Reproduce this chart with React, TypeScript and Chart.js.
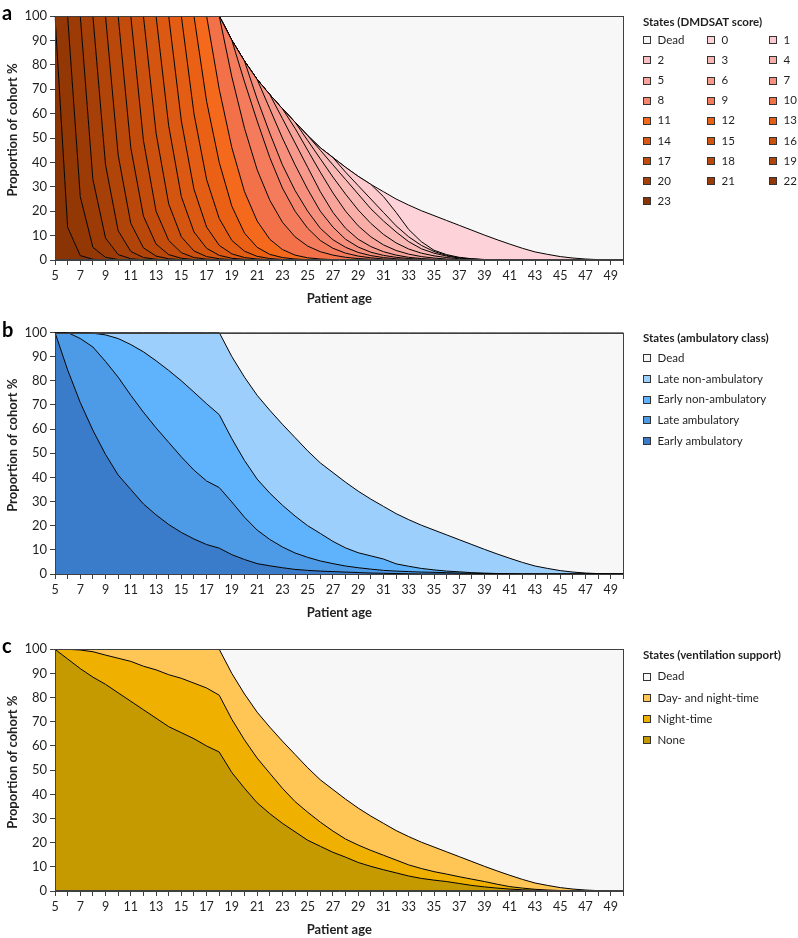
import React, { useEffect, useRef } from "react";
import { Chart, registerables } from "chart.js";

Chart.register(...registerables);

const FONT = 'Lato, "Open Sans", sans-serif';

// ---------- DATA (ages 5..50) ----------
const ages = [5, 6, 7, 8, 9, 10, 11, 12, 13, 14, 15, 16, 17, 18, 19, 20, 21, 22, 23, 24, 25, 26, 27, 28, 29, 30, 31, 32, 33, 34, 35, 36, 37, 38, 39, 40, 41, 42, 43, 44, 45, 46, 47, 48, 49, 50];

const cohortTotal = [
  100, 100, 100, 100, 100, 100, 100, 100, 100, 100,
  100, 100, 100, 100, 100, 100, 100, 100, 100, 100,
  100, 100, 100, 100, 100, 100, 100, 100, 100, 100,
  100, 100, 100, 100, 100, 100, 100, 100, 100, 100,
  100, 100, 100, 100, 100, 100,
];

// proportion alive (cumulative top of all living states)
const survival = [
  100, 100, 100, 100, 100, 100, 100, 100, 100, 100,
  100, 100, 100, 100, 90, 81.5, 74, 67.8, 62, 56.5,
  51, 46, 42, 38, 34.3, 31, 28, 25, 22.5, 20.2,
  18.2, 16.2, 14.2, 12.2, 10.2, 8.3, 6.5, 4.8, 3.3, 2.3,
  1.4, 0.8, 0.4, 0.15, 0.05, 0,
];

// Panel a: cumulative proportion with DMDSAT score >= s
const atLeast1 = [
  100, 100, 100, 100, 100, 100, 100, 100, 100, 100,
  100, 100, 100, 100, 90, 81.5, 74, 67.8, 62, 56.5,
  51, 46, 42, 38, 34.3, 31, 26, 19.5, 12.5, 7.5,
  4, 2.2, 1.1, 0.5, 0.2, 0.05, 0, 0, 0, 0,
  0, 0, 0, 0, 0, 0,
];
const atLeast2 = [
  100, 100, 100, 100, 100, 100, 100, 100, 100, 100,
  100, 100, 100, 100, 90, 81.5, 74, 67.8, 62, 56.5,
  51, 46, 42, 36, 30.5, 25, 19.5, 14, 9.5, 6,
  3.5, 1.9, 0.9, 0.4, 0.15, 0, 0, 0, 0, 0,
  0, 0, 0, 0, 0, 0,
];
const atLeast3 = [
  100, 100, 100, 100, 100, 100, 100, 100, 100, 100,
  100, 100, 100, 100, 90, 81.5, 74, 67.8, 62, 56.5,
  51, 45, 39, 33, 27, 21, 16, 11.5, 7.5, 4.6,
  2.8, 1.6, 0.8, 0.35, 0.12, 0, 0, 0, 0, 0,
  0, 0, 0, 0, 0, 0,
];
const atLeast4 = [
  100, 100, 100, 100, 100, 100, 100, 100, 100, 100,
  100, 100, 100, 100, 90, 81.5, 74, 67.8, 62, 56.5,
  49, 41.5, 34, 27, 20.5, 15, 10.5, 7, 4.5, 2.8,
  1.7, 1, 0.5, 0.25, 0.1, 0, 0, 0, 0, 0,
  0, 0, 0, 0, 0, 0,
];
const atLeast5 = [
  100, 100, 100, 100, 100, 100, 100, 100, 100, 100,
  100, 100, 100, 100, 90, 81.5, 74, 67.8, 62, 54,
  45, 36, 27.5, 20, 14, 9.5, 6.2, 3.9, 2.4, 1.4,
  0.8, 0.4, 0.2, 0.05, 0, 0, 0, 0, 0, 0,
  0, 0, 0, 0, 0, 0,
];
const atLeast6 = [
  100, 100, 100, 100, 100, 100, 100, 100, 100, 100,
  100, 100, 100, 100, 90, 81.5, 74, 67.8, 58, 48,
  38, 28, 19.5, 13, 8.5, 5.5, 3.4, 2, 1.1, 0.6,
  0.3, 0.1, 0, 0, 0, 0, 0, 0, 0, 0,
  0, 0, 0, 0, 0, 0,
];
const atLeast7 = [
  100, 100, 100, 100, 100, 100, 100, 100, 100, 100,
  100, 100, 100, 100, 90, 81.5, 74, 62, 50, 39,
  29, 20, 13.5, 8.5, 5.3, 3.2, 1.9, 1.1, 0.6, 0.3,
  0.1, 0, 0, 0, 0, 0, 0, 0, 0, 0,
  0, 0, 0, 0, 0, 0,
];
const atLeast8 = [
  100, 100, 100, 100, 100, 100, 100, 100, 100, 100,
  100, 100, 100, 100, 90, 81.5, 66, 52, 39, 28.5,
  20, 13, 8.3, 5.2, 3.1, 1.8, 1, 0.5, 0.2, 0.05,
  0, 0, 0, 0, 0, 0, 0, 0, 0, 0,
  0, 0, 0, 0, 0, 0,
];
const atLeast9 = [
  100, 100, 100, 100, 100, 100, 100, 100, 100, 100,
  100, 100, 100, 100, 90, 73, 57, 42, 29.5, 20,
  13, 8, 4.8, 2.8, 1.6, 0.9, 0.4, 0.15, 0, 0,
  0, 0, 0, 0, 0, 0, 0, 0, 0, 0,
  0, 0, 0, 0, 0, 0,
];
const atLeast10 = [
  100, 100, 100, 100, 100, 100, 100, 100, 100, 100,
  100, 100, 100, 100, 75, 54, 37, 24.5, 15.5, 9.5,
  5.7, 3.4, 2, 1.1, 0.6, 0.3, 0.1, 0, 0, 0,
  0, 0, 0, 0, 0, 0, 0, 0, 0, 0,
  0, 0, 0, 0, 0, 0,
];
const atLeast11 = [
  100, 100, 100, 100, 100, 100, 100, 100, 100, 100,
  100, 100, 100, 70, 46, 28, 16, 8.5, 4.3, 2,
  0.9, 0.4, 0.15, 0, 0, 0, 0, 0, 0, 0,
  0, 0, 0, 0, 0, 0, 0, 0, 0, 0,
  0, 0, 0, 0, 0, 0,
];
const atLeast12 = [
  100, 100, 100, 100, 100, 100, 100, 100, 100, 100,
  100, 100, 65, 40, 22, 11, 5.2, 2.3, 1, 0.4,
  0.15, 0, 0, 0, 0, 0, 0, 0, 0, 0,
  0, 0, 0, 0, 0, 0, 0, 0, 0, 0,
  0, 0, 0, 0, 0, 0,
];
const atLeast13 = [
  100, 100, 100, 100, 100, 100, 100, 100, 100, 100,
  100, 60, 33, 17, 8, 3.6, 1.5, 0.6, 0.2, 0,
  0, 0, 0, 0, 0, 0, 0, 0, 0, 0,
  0, 0, 0, 0, 0, 0, 0, 0, 0, 0,
  0, 0, 0, 0, 0, 0,
];
const atLeast14 = [
  100, 100, 100, 100, 100, 100, 100, 100, 100, 100,
  57, 29, 13.5, 6, 2.5, 1, 0.4, 0.1, 0, 0,
  0, 0, 0, 0, 0, 0, 0, 0, 0, 0,
  0, 0, 0, 0, 0, 0, 0, 0, 0, 0,
  0, 0, 0, 0, 0, 0,
];
const atLeast15 = [
  100, 100, 100, 100, 100, 100, 100, 100, 100, 55,
  26, 11.5, 4.8, 1.9, 0.7, 0.25, 0.05, 0, 0, 0,
  0, 0, 0, 0, 0, 0, 0, 0, 0, 0,
  0, 0, 0, 0, 0, 0, 0, 0, 0, 0,
  0, 0, 0, 0, 0, 0,
];
const atLeast16 = [
  100, 100, 100, 100, 100, 100, 100, 100, 52, 23,
  9.5, 3.7, 1.4, 0.5, 0.15, 0, 0, 0, 0, 0,
  0, 0, 0, 0, 0, 0, 0, 0, 0, 0,
  0, 0, 0, 0, 0, 0, 0, 0, 0, 0,
  0, 0, 0, 0, 0, 0,
];
const atLeast17 = [
  100, 100, 100, 100, 100, 100, 100, 49, 20, 8,
  3, 1, 0.35, 0.1, 0, 0, 0, 0, 0, 0,
  0, 0, 0, 0, 0, 0, 0, 0, 0, 0,
  0, 0, 0, 0, 0, 0, 0, 0, 0, 0,
  0, 0, 0, 0, 0, 0,
];
const atLeast18 = [
  100, 100, 100, 100, 100, 100, 46, 18, 6.5, 2.2,
  0.7, 0.2, 0, 0, 0, 0, 0, 0, 0, 0,
  0, 0, 0, 0, 0, 0, 0, 0, 0, 0,
  0, 0, 0, 0, 0, 0, 0, 0, 0, 0,
  0, 0, 0, 0, 0, 0,
];
const atLeast19 = [
  100, 100, 100, 100, 100, 43, 15, 5, 1.6, 0.5,
  0.15, 0, 0, 0, 0, 0, 0, 0, 0, 0,
  0, 0, 0, 0, 0, 0, 0, 0, 0, 0,
  0, 0, 0, 0, 0, 0, 0, 0, 0, 0,
  0, 0, 0, 0, 0, 0,
];
const atLeast20 = [
  100, 100, 100, 100, 39, 12, 3.5, 1, 0.3, 0,
  0, 0, 0, 0, 0, 0, 0, 0, 0, 0,
  0, 0, 0, 0, 0, 0, 0, 0, 0, 0,
  0, 0, 0, 0, 0, 0, 0, 0, 0, 0,
  0, 0, 0, 0, 0, 0,
];
const atLeast21 = [
  100, 100, 100, 33, 9, 2.2, 0.5, 0.1, 0, 0,
  0, 0, 0, 0, 0, 0, 0, 0, 0, 0,
  0, 0, 0, 0, 0, 0, 0, 0, 0, 0,
  0, 0, 0, 0, 0, 0, 0, 0, 0, 0,
  0, 0, 0, 0, 0, 0,
];
const atLeast22 = [
  100, 100, 26, 5.2, 1.1, 0.2, 0, 0, 0, 0,
  0, 0, 0, 0, 0, 0, 0, 0, 0, 0,
  0, 0, 0, 0, 0, 0, 0, 0, 0, 0,
  0, 0, 0, 0, 0, 0, 0, 0, 0, 0,
  0, 0, 0, 0, 0, 0,
];
const atLeast23 = [
  100, 13.4, 1.8, 0.3, 0, 0, 0, 0, 0, 0,
  0, 0, 0, 0, 0, 0, 0, 0, 0, 0,
  0, 0, 0, 0, 0, 0, 0, 0, 0, 0,
  0, 0, 0, 0, 0, 0, 0, 0, 0, 0,
  0, 0, 0, 0, 0, 0,
];

// Panel b: cumulative proportions (ambulatory class)
const earlyAmbulatory = [
  100, 84.5, 71, 59.5, 49.5, 41, 35, 29, 24.5, 20.5,
  17.2, 14.5, 12.2, 10.7, 8, 6, 4.3, 3.4, 2.6, 1.9,
  1.5, 1.2, 1, 0.8, 0.6, 0.4, 0.3, 0.2, 0.1, 0,
  0, 0, 0, 0, 0, 0, 0, 0, 0, 0,
  0, 0, 0, 0, 0, 0,
];
const upToLateAmbulatory = [
  100, 100, 97.5, 94, 88, 81.5, 74, 67, 60.5, 54.5,
  48.5, 43, 38.5, 35.8, 29.8, 23.5, 18.2, 14.3, 11.2, 8.7,
  6.9, 5.4, 4.3, 3.3, 2.6, 2, 1.5, 1.2, 1, 0.8,
  0.7, 0.55, 0.4, 0.3, 0.2, 0.1, 0, 0, 0, 0,
  0, 0, 0, 0, 0, 0,
];
const upToEarlyNonAmbulatory = [
  100, 100, 100, 99.7, 99, 97.5, 95, 92, 88.3, 84.3,
  80, 75.3, 70.5, 66, 56, 47, 39.3, 33.5, 28.5, 24,
  20, 16.8, 13.5, 10.8, 8.8, 7.5, 6.2, 4.2, 3.2, 2.3,
  1.7, 1.2, 0.9, 0.55, 0.35, 0.2, 0.1, 0, 0, 0,
  0, 0, 0, 0, 0, 0,
];

// Panel c: cumulative proportions (ventilation support)
const noSupport = [
  100, 96, 92, 88.5, 85.5, 82, 78.5, 75, 71.5, 68,
  65.5, 63, 60, 57.5, 49, 42.5, 36.5, 32, 28, 24.5,
  21, 18.5, 16, 14, 11.8, 10.2, 8.8, 7.5, 6.2, 5.2,
  4.5, 3.9, 3.1, 2.3, 1.7, 1.2, 0.8, 0.5, 0.3, 0.15,
  0.05, 0, 0, 0, 0, 0,
];
const upToNightTime = [
  100, 100, 99.7, 99, 97.6, 96.3, 95, 93, 91.5, 89.5,
  88, 86, 84, 81, 71, 62.5, 55, 48.7, 42.5, 37,
  32.6, 28.5, 24.8, 21.5, 19, 16.8, 14.8, 12.8, 10.8, 9.3,
  8, 7, 5.9, 4.9, 3.9, 2.8, 1.8, 1.2, 0.7, 0.4,
  0.2, 0.05, 0, 0, 0, 0,
];

// ---------- STYLE ----------
const DEAD_COLOR = "#f7f7f7";
const scoreColors: Record<string, string> = {
  "0": "#fdd3d9", "1": "#fccacd", "2": "#fbc1c2", "3": "#fab8b5", "4": "#f9aea8",
  "5": "#f8a49a", "6": "#f79a8c", "7": "#f6907c", "8": "#f5866d", "9": "#f47b5c",
  "10": "#f37148", "11": "#f5691c", "12": "#ea6116", "13": "#e35d14", "14": "#db5912",
  "15": "#d45510", "16": "#cc510e", "17": "#c34c0c", "18": "#ba480b", "19": "#b04409",
  "20": "#a63f08", "21": "#9c3b06", "22": "#933705", "23": "#8a3304",
};

type Layer = { label: string; values: number[]; color: string };

const dmdsatLayers: Layer[] = [
  { label: "23", values: atLeast23, color: scoreColors["23"] },
  { label: "22", values: atLeast22, color: scoreColors["22"] },
  { label: "21", values: atLeast21, color: scoreColors["21"] },
  { label: "20", values: atLeast20, color: scoreColors["20"] },
  { label: "19", values: atLeast19, color: scoreColors["19"] },
  { label: "18", values: atLeast18, color: scoreColors["18"] },
  { label: "17", values: atLeast17, color: scoreColors["17"] },
  { label: "16", values: atLeast16, color: scoreColors["16"] },
  { label: "15", values: atLeast15, color: scoreColors["15"] },
  { label: "14", values: atLeast14, color: scoreColors["14"] },
  { label: "13", values: atLeast13, color: scoreColors["13"] },
  { label: "12", values: atLeast12, color: scoreColors["12"] },
  { label: "11", values: atLeast11, color: scoreColors["11"] },
  { label: "10", values: atLeast10, color: scoreColors["10"] },
  { label: "9", values: atLeast9, color: scoreColors["9"] },
  { label: "8", values: atLeast8, color: scoreColors["8"] },
  { label: "7", values: atLeast7, color: scoreColors["7"] },
  { label: "6", values: atLeast6, color: scoreColors["6"] },
  { label: "5", values: atLeast5, color: scoreColors["5"] },
  { label: "4", values: atLeast4, color: scoreColors["4"] },
  { label: "3", values: atLeast3, color: scoreColors["3"] },
  { label: "2", values: atLeast2, color: scoreColors["2"] },
  { label: "1", values: atLeast1, color: scoreColors["1"] },
  { label: "0", values: survival, color: scoreColors["0"] },
  { label: "Dead", values: cohortTotal, color: DEAD_COLOR },
];

const ambulatoryLayers: Layer[] = [
  { label: "Early ambulatory", values: earlyAmbulatory, color: "#3a7cc9" },
  { label: "Late ambulatory", values: upToLateAmbulatory, color: "#4d9ae6" },
  { label: "Early non-ambulatory", values: upToEarlyNonAmbulatory, color: "#5fb3fd" },
  { label: "Late non-ambulatory", values: survival, color: "#9dcffc" },
  { label: "Dead", values: cohortTotal, color: DEAD_COLOR },
];

const ventilationLayers: Layer[] = [
  { label: "None", values: noSupport, color: "#c59a00" },
  { label: "Night-time", values: upToNightTime, color: "#efb000" },
  { label: "Day- and night-time", values: survival, color: "#ffc656" },
  { label: "Dead", values: cohortTotal, color: DEAD_COLOR },
];

type PanelProps = {
  top: number;
  height: number;
  padTop: number;
  letter: string;
  layers: Layer[];
  legendTitle: string;
  colX: number[];
  titleDy: number;
  firstDy: number;
  rowGap: number;
};

const AXIS_COLOR = "#404040";
const TEXT_COLOR = "#1f1f1f";

function Panel(p: PanelProps) {
  const ref = useRef<HTMLCanvasElement | null>(null);
  useEffect(() => {
    if (!ref.current) return;
    const datasets = p.layers.map((l, i) => ({
      label: l.label,
      data: l.values,
      backgroundColor: l.color,
      borderColor: "#000000",
      borderWidth: 1,
      pointRadius: 0,
      pointHoverRadius: 0,
      tension: 0,
      fill: i === 0 ? "origin" : "-1",
    }));

    const framePlugin = {
      id: "frame",
      afterDatasetsDraw(chart: any) {
        const { ctx, chartArea: a } = chart;
        ctx.save();
        ctx.strokeStyle = AXIS_COLOR;
        ctx.lineWidth = 1;
        ctx.strokeRect(Math.round(a.left) + 0.5, Math.round(a.top) + 0.5, Math.round(a.right - a.left) - 1, Math.round(a.bottom - a.top) - 1);
        ctx.restore();
      },
    };

    const decorPlugin = {
      id: "decor",
      afterDraw(chart: any) {
        const { ctx, chartArea: a } = chart;
        ctx.save();
        // panel letter
        ctx.fillStyle = "#000";
        ctx.font = `bold 20px ${FONT}`;
        ctx.textAlign = "left";
        ctx.textBaseline = "alphabetic";
        ctx.fillText(p.letter, 2, a.top + 4);
        // y title
        ctx.save();
        ctx.translate(12.5, (a.top + a.bottom) / 2 - 8);
        ctx.rotate(-Math.PI / 2);
        ctx.font = `bold 13px ${FONT}`;
        ctx.textAlign = "center";
        ctx.textBaseline = "middle";
        ctx.fillStyle = TEXT_COLOR;
        ctx.fillText("Proportion of cohort %", 0, 0);
        ctx.restore();
        // legend
        const items = chart.data.datasets.slice().reverse();
        ctx.font = `bold 11.5px ${FONT}`;
        ctx.textAlign = "left";
        ctx.textBaseline = "middle";
        ctx.fillStyle = TEXT_COLOR;
        ctx.fillText(p.legendTitle, p.colX[0], a.top + p.titleDy);
        ctx.font = `11.5px ${FONT}`;
        const cols = p.colX.length;
        items.forEach((ds: any, i: number) => {
          const col = i % cols;
          const row = Math.floor(i / cols);
          const bx = Math.round(p.colX[col]);
          const cy = a.top + p.firstDy + row * p.rowGap;
          const y0 = Math.round(cy - 4);
          ctx.fillStyle = ds.backgroundColor;
          ctx.fillRect(bx, y0, 8, 8);
          ctx.strokeStyle = "#333333";
          ctx.lineWidth = 1;
          ctx.strokeRect(bx + 0.5, y0 + 0.5, 7, 7);
          ctx.fillStyle = TEXT_COLOR;
          ctx.fillText(ds.label, bx + 14.5, cy);
        });
        ctx.restore();
      },
    };

    const chart = new Chart(ref.current, {
      type: "line",
      data: { labels: ages.map(String), datasets },
      options: {
        responsive: false,
        animation: false,
        devicePixelRatio: 1,
        layout: { padding: { top: p.padTop, right: 174.5, left: 0, bottom: 0 } },
        plugins: { legend: { display: false }, tooltip: { enabled: false } },
        elements: { line: { borderJoinStyle: "round" } },
        scales: {
          x: {
            type: "category",
            offset: false,
            grid: { drawOnChartArea: false, drawTicks: true, tickLength: 5, color: AXIS_COLOR, offset: false },
            border: { display: true, color: AXIS_COLOR },
            ticks: {
              autoSkip: false,
              maxRotation: 0,
              minRotation: 0,
              padding: 3,
              color: TEXT_COLOR,
              font: { family: FONT, size: 12.5 },
              callback: (_v: any, idx: number) => (ages[idx] % 2 === 1 ? String(ages[idx]) : ""),
            },
            title: {
              display: true,
              text: "Patient age",
              color: TEXT_COLOR,
              font: { family: FONT, size: 13, weight: "bold" },
              padding: { top: 0, bottom: 3 },
            },
            afterFit: (s: any) => { s.height = 50; },
          },
          y: {
            min: 0,
            max: 100,
            grid: { drawOnChartArea: false, drawTicks: true, tickLength: 5, color: AXIS_COLOR },
            border: { display: true, color: AXIS_COLOR },
            ticks: { stepSize: 10, padding: 3, color: TEXT_COLOR, font: { family: FONT, size: 13 } },
            afterFit: (s: any) => { s.width = 55; },
          },
        },
      } as any,
      plugins: [framePlugin, decorPlugin],
    });
    return () => chart.destroy();
  }, []);
  return (
    <canvas
      ref={ref}
      width={798}
      height={p.height}
      style={{ position: "absolute", left: 0, top: p.top, width: 798, height: p.height }}
    />
  );
}

export default function App() {
  return (
    <div style={{ position: "absolute", left: 0, top: 0, width: 798, height: 938, background: "#fff", overflow: "hidden" }}>
      <Panel top={0} height={310} padTop={16} letter="a" layers={dmdsatLayers}
        legendTitle="States (DMDSAT score)" colX={[643, 707, 769]} titleDy={6.7} firstDy={24.3} rowGap={20.1} />
      <Panel top={312} height={312} padTop={20.5} letter="b" layers={ambulatoryLayers}
        legendTitle="States (ambulatory class)" colX={[643]} titleDy={5.8} firstDy={25.5} rowGap={20.8} />
      <Panel top={628} height={313} padTop={21.3} letter="c" layers={ventilationLayers}
        legendTitle="States (ventilation support)" colX={[643]} titleDy={6.4} firstDy={27.4} rowGap={21.1} />
    </div>
  );
}
